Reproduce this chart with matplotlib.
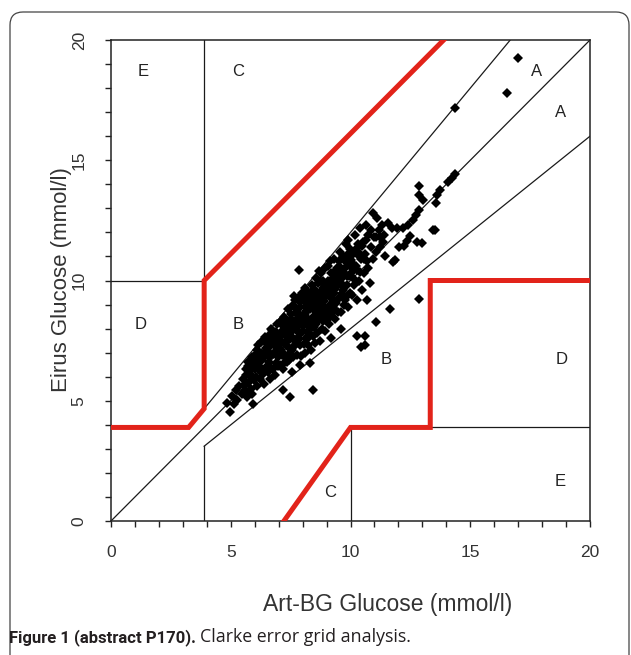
import numpy as np
import matplotlib
matplotlib.use('Agg')
import matplotlib.pyplot as plt
from matplotlib.patches import FancyBboxPatch

# paired readings (mmol/l): Art-BG reference vs Eirus sensor
art_bg = [
    5.05, 5.12, 5.2, 5.28, 5.35, 5.45,
    5.52, 5.58, 5.63, 5.7, 5.74, 5.8, 5.84, 5.9, 5.93, 5.97, 5.66, 5.88,
    6.02, 6.05, 6.1, 6.14, 6.18, 6.22, 6.25, 6.3, 6.33, 6.37, 6.4, 6.44, 6.47, 6.12, 6.28, 6.42,
    6.52, 6.55, 6.58, 6.6, 6.63, 6.66, 6.7, 6.72, 6.75, 6.78, 6.8, 6.83, 6.86, 6.9, 6.92, 6.95, 6.98, 6.68, 6.88, 6.57,
    7.02, 7.05, 7.08, 7.1, 7.13, 7.16, 7.2, 7.22, 7.25, 7.28, 7.3, 7.33, 7.36, 7.4, 7.42, 7.45, 7.48, 7.06, 7.18, 7.27, 7.38, 7.46,
    7.52, 7.54, 7.57, 7.6, 7.62, 7.65, 7.68, 7.7, 7.72, 7.75, 7.78, 7.8, 7.83, 7.86, 7.88, 7.9, 7.93, 7.96, 7.98, 7.58, 7.66, 7.74, 7.84, 7.92,
    8.02, 8.05, 8.08, 8.1, 8.12, 8.15, 8.18, 8.2, 8.23, 8.26, 8.3, 8.32, 8.35, 8.38, 8.4, 8.43, 8.46, 8.48, 8.06, 8.14, 8.24, 8.34, 8.44, 8.5,
    8.52, 8.55, 8.58, 8.6, 8.63, 8.66, 8.7, 8.72, 8.75, 8.78, 8.8, 8.83, 8.86, 8.9, 8.92, 8.95, 8.98, 8.56, 8.64, 8.74, 8.84, 8.94, 8.68, 8.88,
    9.02, 9.05, 9.08, 9.1, 9.13, 9.16, 9.2, 9.22, 9.25, 9.28, 9.3, 9.33, 9.36, 9.4, 9.42, 9.45, 9.48, 9.06, 9.18, 9.32, 9.44, 9.26,
    9.52, 9.55, 9.58, 9.6, 9.64, 9.67, 9.7, 9.73, 9.76, 9.8, 9.84, 9.87, 9.9, 9.93, 9.96, 9.99, 9.62, 9.78, 9.88, 9.56,
    10.02, 10.06, 10.1, 10.14, 10.18, 10.22, 10.26, 10.3, 10.34, 10.38, 10.42, 10.46, 10.12, 10.36,
    10.52, 10.58, 10.64, 10.7, 10.75, 10.8, 10.86, 10.92, 10.96, 10.6,
    11.05, 11.1, 11.2, 11.25, 11.36, 11.45, 11.55, 11.73, 11.94, 11.86,
    12.03, 12.19, 12.23, 12.36, 12.4, 12.61, 12.73, 12.78, 12.86, 12.86, 12.86, 12.99, 13.03, 13.44, 13.53, 13.57, 13.61, 13.74, 14.07, 14.24, 14.36, 12.5,
    14.36, 16.52, 17.0, 7.85, 12.86, 11.65, 11.06, 10.27, 10.6, 10.44, 11.77, 10.69, 8.43, 7.18, 7.47, 5.93, 4.97, 4.84, 10.6, 11.23,
    8.3, 7.9, 7.55, 9.2, 9.6,
    5.55, 5.62, 5.71, 5.78, 5.86, 5.95, 6.03, 6.16, 6.24, 6.35, 6.46, 6.08,
    6.51, 6.59, 6.64, 6.71, 6.77, 6.84, 6.91, 6.97, 7.03, 7.09, 7.15, 7.21, 7.26, 7.32, 7.37, 7.43, 7.49, 6.62, 6.94, 7.24,
    7.51, 7.56, 7.61, 7.67, 7.71, 7.77, 7.82, 7.87, 7.91, 7.97, 8.01, 8.07, 8.11, 8.16, 8.21, 8.27, 8.31, 8.36, 8.41, 8.47, 7.64, 8.19,
    8.51, 8.57, 8.62, 8.67, 8.71, 8.77, 8.81, 8.87, 8.91, 8.97, 9.01, 9.07, 9.11, 9.17, 9.21, 9.27, 9.31, 9.37, 9.41, 9.47, 8.79, 9.14,
    9.51, 9.57, 9.63, 9.69, 9.74, 9.81, 9.86, 9.92, 9.97, 10.04, 10.09, 10.16, 10.21, 10.27, 10.33, 10.41, 10.47, 9.91,
    10.55, 10.66, 10.73, 10.84, 10.98, 11.08, 11.3, 11.4,
]
eirus = [
    5.2, 4.85, 5.45, 5.05, 5.6, 5.3,
    5.9, 5.45, 6.3, 5.75, 6.6, 6.1, 5.5, 6.8, 6.35, 5.85, 5.15, 5.3,
    6.9, 6.0, 5.6, 7.3, 6.45, 5.9, 7.0, 6.7, 6.1, 7.5, 5.7, 6.9, 6.35, 6.65, 7.45, 7.65,
    7.1, 6.2, 7.7, 6.6, 5.9, 7.3, 6.9, 7.95, 6.3, 7.5, 7.0, 6.05, 7.75, 6.55, 8.2, 7.2, 6.8, 8.0, 7.4, 6.85,
    7.6, 6.5, 8.3, 7.1, 6.9, 7.9, 6.3, 8.5, 7.4, 6.8, 8.0, 7.65, 6.6, 8.8, 7.2, 8.3, 7.0, 7.35, 8.1, 7.85, 6.75, 7.55,
    8.6, 7.1, 7.9, 9.0, 6.8, 8.3, 7.5, 9.2, 8.0, 6.9, 8.7, 7.6, 9.3, 8.2, 7.3, 8.9, 7.8, 9.5, 8.4, 8.0, 8.9, 7.35, 8.5, 6.85,
    7.9, 9.2, 7.0, 8.6, 9.7, 7.6, 8.3, 9.0, 7.3, 9.5, 8.0, 8.8, 7.1, 9.8, 8.4, 7.7, 9.3, 8.9, 8.2, 8.9, 8.1, 9.1, 8.5, 7.4,
    9.6, 8.2, 10.1, 7.8, 8.9, 9.9, 8.5, 7.5, 9.3, 10.3, 8.0, 9.0, 9.7, 8.6, 10.5, 7.9, 9.4, 8.7, 9.2, 8.9, 8.3, 9.8, 10.4, 9.15,
    8.8, 10.0, 9.4, 8.2, 10.8, 9.0, 8.6, 9.7, 10.3, 8.9, 9.5, 10.9, 8.4, 9.9, 10.5, 9.2, 8.7, 10.6, 9.95, 9.1, 10.1, 9.6,
    10.8, 9.3, 11.2, 8.7, 10.1, 9.6, 11.0, 9.0, 10.5, 11.5, 9.8, 10.2, 8.9, 10.9, 9.5, 11.3, 9.9, 9.2, 11.7, 10.4,
    10.3, 9.4, 11.1, 9.8, 11.9, 10.6, 9.2, 11.5, 10.0, 12.2, 10.9, 9.6, 10.7, 11.0,
    11.6, 10.3, 12.3, 10.8, 11.9, 9.9, 11.4, 12.8, 10.9, 11.1,
    11.8, 12.6, 12.1, 11.4, 11.6, 11.0, 12.4, 12.2, 12.2, 10.85,
    11.39, 12.18, 11.43, 11.64, 12.31, 12.52, 12.72, 11.6, 12.93, 13.56, 13.93, 11.56, 13.35, 12.1, 12.1, 13.22, 13.56, 13.76, 14.1, 14.26, 14.43, 11.85,
    17.16, 17.78, 19.25, 10.42, 9.25, 8.81, 8.27, 7.71, 7.71, 7.24, 10.77, 9.17, 5.45, 5.45, 5.16, 4.88, 4.53, 4.9, 7.3, 11.81,
    6.57, 6.5, 6.2, 7.6, 8.0,
    5.65, 6.05, 6.45, 5.4, 6.0, 6.55, 6.3, 6.9, 6.25, 6.95, 7.2, 7.1,
    6.45, 7.45, 6.95, 7.6, 6.95, 7.35, 7.85, 6.45, 7.2, 7.75, 7.45, 6.95, 8.2, 7.3, 7.95, 6.7, 8.05, 6.4, 7.6, 6.55,
    7.7, 8.35, 7.25, 8.1, 8.65, 7.9, 8.25, 7.55, 9.1, 8.15, 8.55, 7.35, 9.35, 8.75, 8.4, 7.8, 9.25, 8.15, 9.55, 8.05, 9.35, 7.55,
    8.95, 9.45, 8.3, 9.15, 10.0, 8.75, 9.55, 10.0, 9.3, 8.55, 9.45, 9.75, 8.45, 10.3, 9.25, 10.1, 8.8, 9.65, 9.05, 10.25, 9.95, 9.7,
    9.85, 10.55, 9.45, 10.35, 9.75, 10.75, 9.35, 10.2, 10.6, 10.85, 10.1, 10.5, 11.3, 10.45, 11.2, 10.35, 11.45, 11.1,
    10.9, 11.7, 10.5, 12.1, 11.8, 11.2, 12.3, 11.9,
]

# Clarke grid boundaries in mmol/l
grid_black = [
    ([0, 20], [0, 20]),
    ([3.24, 16.67], [3.89, 20]),
    ([3.89, 20], [3.11, 16]),
    ([3.89, 3.89], [0, 3.11]),
    ([3.89, 3.89], [4.67, 20]),
    ([0, 3.89], [10, 10]),
    ([10, 10], [0, 3.89]),
    ([10, 20], [3.89, 3.89]),
]
grid_red = [
    ([0, 3.24, 3.89, 3.89, 13.89], [3.89, 3.89, 4.67, 10, 20]),
    ([7.22, 10, 13.33, 13.33, 20], [0, 3.89, 3.89, 10, 10]),
]
zone_letters = ['E', 'C', 'A', 'A', 'D', 'B', 'B', 'D', 'C', 'E']
zone_x = [1.35, 5.3, 17.75, 18.75, 1.25, 5.3, 11.5, 18.8, 9.15, 18.75]
zone_y = [18.7, 18.7, 18.7, 17.0, 8.15, 8.15, 6.7, 6.7, 1.2, 1.65]

W, H = 631, 655

def draw_grid(ax):
    for xs, ys in grid_black:
        ax.plot(xs, ys, color='#1a1a1a', lw=0.9, zorder=2)
    for xs, ys in grid_red:
        ax.plot(xs, ys, color='#e2231a', lw=3.6, solid_joinstyle='miter', zorder=3)
    for letter, x, y in zip(zone_letters, zone_x, zone_y):
        ax.text(x, y, letter, fontsize=12, ha='center', va='center',
                color='#222222', family='Liberation Sans')

def main():
    fig = plt.figure(figsize=(W/100, H/100), dpi=100)
    fig.patch.set_facecolor('white')

    # rounded frame of the journal figure box (open at bottom)
    box = FancyBboxPatch((10/100, -0.6), 619/100, (H-12)/100 + 0.6,
                         boxstyle='round,pad=0,rounding_size=0.13',
                         transform=fig.dpi_scale_trans, fill=False,
                         edgecolor='#444444', lw=0.9)
    fig.add_artist(box)

    ax = fig.add_axes([111/W, (H-521)/H, 479/W, 481/H])
    draw_grid(ax)
    ax.plot(art_bg, eirus, 'D', color='black', ms=5.0, mew=0, zorder=4)

    ax.set_xlim(0, 20)
    ax.set_ylim(0, 20)
    ax.set_xticks(np.arange(0, 21, 5))
    ax.set_yticks(np.arange(0, 21, 5))
    ax.set_xticks(np.arange(0, 21, 1), minor=True)
    ax.set_yticks(np.arange(0, 21, 1), minor=True)
    ax.tick_params(which='major', direction='out', length=4.5, width=1.0, color='#222222',
                   pad=13, labelsize=12.5, labelcolor='#333333')
    ax.tick_params(which='minor', direction='out', length=4.5, width=1.0, color='#222222')
    for lab in ax.get_xticklabels() + ax.get_yticklabels():
        lab.set_family('Liberation Sans')
    for lab in ax.get_yticklabels():
        lab.set_rotation(90)
        lab.set_va('center')
    for sp in ax.spines.values():
        sp.set_linewidth(1.1)
        sp.set_color('#222222')

    fig.text(388/W, 1-604/H, 'Art-BG Glucose (mmol/l)', fontsize=16.5,
             ha='center', va='center', color='#333333', family='Liberation Sans')
    fig.text(62/W, 1-280/H, 'Eirus Glucose (mmol/l)', fontsize=16, rotation=90,
             ha='center', va='center', color='#333333', family='Liberation Sans')

    # caption: bold lead then regular text
    t1 = fig.text(9/W, 1-642/H, 'Figure 1 (abstract P170).', fontsize=12,
                  fontweight='bold', family='Roboto', color='#231f20', va='baseline')
    fig.canvas.draw()
    bb = t1.get_window_extent()
    fig.text((bb.x1 + 4)/W, 1-642/H, 'Clarke error grid analysis.', fontsize=12.8,
             family='Open Sans', color='#231f20', va='baseline')

    fig.savefig('out.png', dpi=100)

if __name__ == "__main__":
    main()
